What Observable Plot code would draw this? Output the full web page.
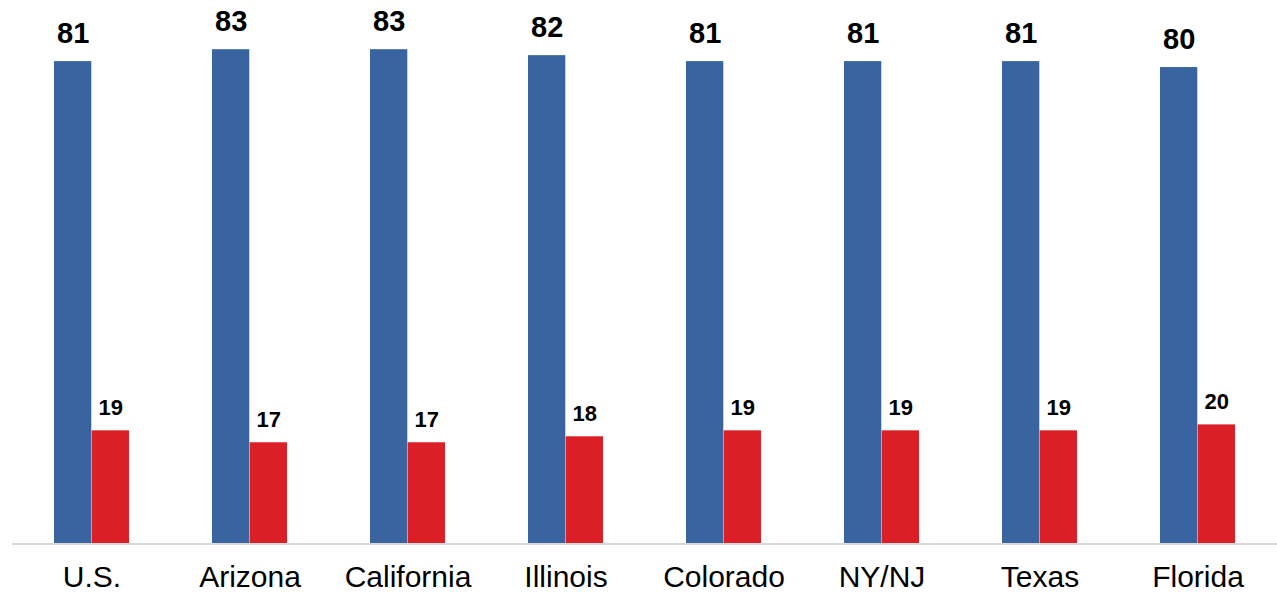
<!DOCTYPE html>
<html>
<head>
<meta charset="utf-8">
<script src="https://cdn.jsdelivr.net/npm/d3@7"></script>
<script src="https://cdn.jsdelivr.net/npm/@observablehq/plot@0.6"></script>
<style>
  html, body { margin: 0; padding: 0; background: #fff; }
  #chart svg { display: block; overflow: visible; }
</style>
</head>
<body>
<div id="chart"></div>
<script>
const categories = ["U.S.", "Arizona", "California", "Illinois", "Colorado", "NY/NJ", "Texas", "Florida"];
const blueValues = [81, 83, 83, 82, 81, 81, 81, 80];
const redValues = [19, 17, 17, 18, 19, 19, 19, 20];

const blueData = categories.map((c, i) => ({category: c, value: blueValues[i]}));
const redData = categories.map((c, i) => ({category: c, value: redValues[i]}));

const BLUE = "#3a64a0";
const RED = "#da1f27";
const half = 37.7;

const chart = Plot.plot({
  width: 1277,
  height: 596,
  marginLeft: 12,
  marginRight: 0,
  marginTop: 7.5,
  marginBottom: 52.5,
  style: {fontFamily: "'Liberation Sans', Arial, sans-serif", background: "#fff", overflow: "visible"},
  x: {domain: categories, paddingInner: 0.523, paddingOuter: 0.2615, label: null},
  y: {domain: [0, 90], axis: null},
  marks: [
    Plot.barY(blueData, {x: "category", y: "value", fill: BLUE, insetRight: half}),
    Plot.barY(redData, {x: "category", y: "value", fill: RED, insetLeft: half}),
    Plot.ruleY([0], {stroke: "#d9d9d9", strokeWidth: 2}),
    Plot.text(blueData, {x: "category", y: "value", text: d => String(d.value), dx: -half / 2, dy: -28, fontSize: 29, fontWeight: "bold", fill: "#000"}),
    Plot.text(redData, {x: "category", y: "value", text: d => String(d.value), dx: half / 2, dy: -23, fontSize: 22, fontWeight: "bold", fill: "#000"}),
    Plot.axisX({tickSize: 0, tickPadding: 22, fontSize: 30, label: null, color: "#000"})
  ]
});
document.getElementById("chart").appendChild(chart);
</script>
</body>
</html>
